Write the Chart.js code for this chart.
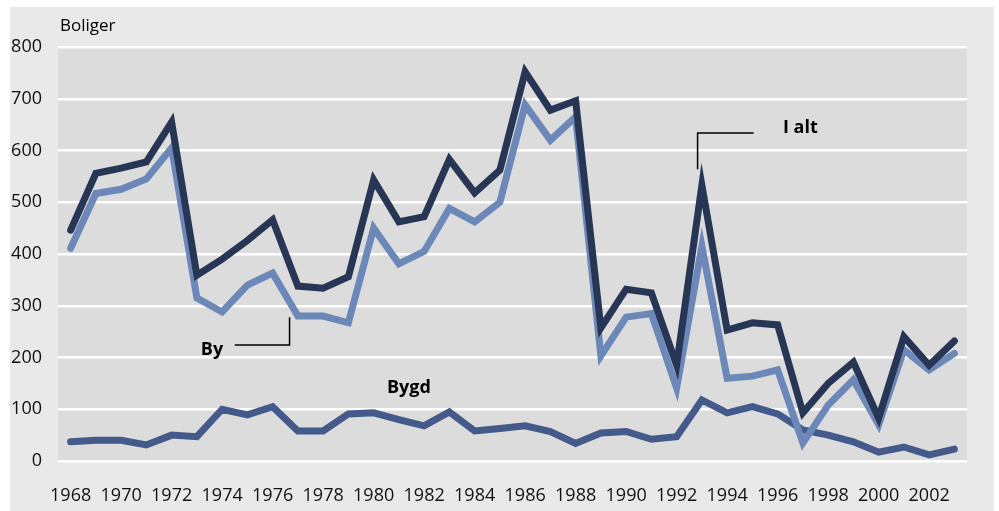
<!DOCTYPE html>
<html>
<head>
<meta charset="utf-8">
<script src="https://cdn.jsdelivr.net/npm/chart.js@4"></script>
<style>
  body { margin: 0; background: #ffffff; }
  #panel { position: absolute; left: 10px; top: 7px; width: 984px; height: 504px; background: #e9e9e9; }
  #wrap { position: absolute; left: 0; top: 0; width: 999px; height: 511px; }
</style>
</head>
<body>
<div id="panel"></div>
<div id="wrap"><canvas id="chart" width="999" height="511"></canvas></div>
<script>
// år
const years = [];
for (let y = 1968; y <= 2003; y++) years.push(String(y));

// boliger, lest av figuren
const iAlt = [446, 556, 566, 578, 655, 359, 390, 426, 466, 338, 334, 356, 543, 462, 472, 583, 518, 562,
              752, 678, 696, 257, 332, 325, 185, 533, 253, 267, 263, 93, 150, 191, 83, 240, 185, 232];
const by = [411, 517, 525, 545, 605, 315, 288, 340, 363, 280, 280, 267, 450, 381, 405, 488, 462, 500,
            688, 620, 665, 203, 278, 285, 141, 415, 160, 164, 176, 35, 108, 157, 70, 215, 176, 208];
const bygd = [37, 40, 40, 31, 50, 47, 100, 89, 105, 58, 58, 91, 93, 80, 68, 95, 58, 63,
              68, 57, 34, 54, 57, 42, 47, 118, 93, 105, 91, 60, 50, 37, 17, 27, 12, 23];

const yTicks = [0, 100, 200, 300, 400, 500, 600, 700, 800];

// tekster i figuren, plassert i dataenheter (indeks, verdi)
const labels = [
    { text: 'I alt', x: 28.9, y: 643 },
    { text: 'By', x: 5.6, y: 214 },
    { text: 'Bygd', x: 13.4, y: 141 }
];
const leaders = [
    [[24.83, 564], [24.83, 634], [27.05, 634]],
    [[6.5, 224], [8.67, 224], [8.67, 278]]
];

const FONT = '"Open Sans", "Noto Sans", sans-serif';

const annotatePlugin = {
    id: 'annotate',
    beforeDraw(chart) {
        const ctx = chart.ctx;
        const a = chart.chartArea;
        ctx.save();
        ctx.fillStyle = '#dcdcdc';
        ctx.fillRect(a.left, a.top, a.right - a.left, a.bottom - a.top);
        ctx.restore();
    },
    afterDatasetsDraw(chart) {
        const ctx = chart.ctx;
        const xs = chart.scales.x, ys = chart.scales.y;
        ctx.save();
        ctx.strokeStyle = '#000000';
        ctx.lineWidth = 1.5;
        leaders.forEach(pts => {
            ctx.beginPath();
            pts.forEach((p, i) => {
                const px = xs.getPixelForValue(p[0]);
                const py = ys.getPixelForValue(p[1]);
                if (i === 0) ctx.moveTo(px, py); else ctx.lineTo(px, py);
            });
            ctx.stroke();
        });
        ctx.fillStyle = '#000000';
        ctx.font = 'bold 18px ' + FONT;
        ctx.textAlign = 'center';
        ctx.textBaseline = 'middle';
        labels.forEach(l => {
            ctx.fillText(l.text, xs.getPixelForValue(l.x), ys.getPixelForValue(l.y));
        });
        ctx.font = '17px ' + FONT;
        ctx.textAlign = 'left';
        ctx.fillText('Boliger', 60, 26);
        ctx.restore();
    }
};

const ctx = document.getElementById('chart').getContext('2d');
window.myChart = new Chart(ctx, {
    type: 'line',
    data: {
        labels: years,
        datasets: [
            { label: 'I alt', data: iAlt, borderColor: '#263654', order: 1 },
            { label: 'By', data: by, borderColor: '#6b88b8', order: 2 },
            { label: 'Bygd', data: bygd, borderColor: '#435a8a', order: 3 }
        ].map(d => Object.assign(d, {
            borderWidth: 7,
            pointRadius: 0,
            tension: 0,
            fill: false,
            borderCapStyle: 'round',
            borderJoinStyle: 'miter'
        }))
    },
    options: {
        responsive: false,
        animation: false,
        layout: { padding: { left: 0, right: 32, top: 47, bottom: 0 } },
        plugins: {
            legend: { display: false },
            tooltip: { enabled: false }
        },
        scales: {
            x: {
                offset: true,
                grid: { display: false, drawTicks: false },
                border: { display: false },
                ticks: {
                    autoSkip: false,
                    maxRotation: 0,
                    padding: 24,
                    color: '#111111',
                    font: { family: FONT, size: 18 },
                    callback: function (val, i) { return i % 2 === 0 ? years[i] : ''; }
                },
                afterFit: function (scale) { scale.height = 50; }
            },
            y: {
                min: 0,
                max: 800,
                afterBuildTicks: function (scale) { scale.ticks = yTicks.map(v => ({ value: v })); },
                grid: { color: '#ffffff', lineWidth: 2.5, drawTicks: false },
                border: { display: false },
                ticks: {
                    padding: 16,
                    color: '#111111',
                    font: { family: FONT, size: 18 }
                },
                afterFit: function (scale) { scale.width = 58; }
            }
        }
    },
    plugins: [annotatePlugin]
});
</script>
</body>
</html>
